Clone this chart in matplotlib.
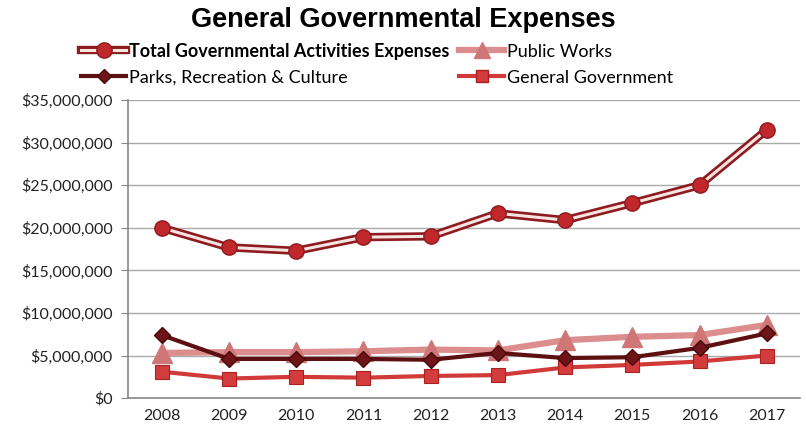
import matplotlib.pyplot as plt
from matplotlib.lines import Line2D
from matplotlib.legend_handler import HandlerTuple
from matplotlib.ticker import FuncFormatter

years = ['2008', '2009', '2010', '2011', '2012', '2013', '2014', '2015', '2016', '2017']
total = [20.0, 17.7, 17.3, 18.9, 19.0, 21.7, 20.9, 22.9, 25.0, 31.5]
public_works = [5.3, 5.4, 5.4, 5.5, 5.7, 5.6, 6.8, 7.2, 7.4, 8.6]
parks = [7.4, 4.6, 4.6, 4.6, 4.5, 5.3, 4.7, 4.8, 5.9, 7.6]
general_gov = [3.1, 2.3, 2.5, 2.4, 2.6, 2.7, 3.6, 3.9, 4.3, 5.0]

plt.rcParams['font.family'] = ['Lato', 'DejaVu Sans']

fig = plt.figure(figsize=(8.06, 4.37), dpi=100)
ax = fig.add_axes([0.159, 0.089, 0.834, 0.682])
x = list(range(len(years)))
M = 1e6

# total expenses: dark outline with pale core, sphere markers
ax.plot(x, [v * M for v in total], color='#8e1b1f', lw=6, zorder=3, solid_capstyle='round')
ax.plot(x, [v * M for v in total], color='#f6e4e0', lw=2.2, zorder=4)
ax.plot(x, [v * M for v in total], ls='none', marker='o', ms=11, mfc='#c0282c',
        mec='#8e1b1f', mew=1, zorder=5)

ax.plot(x, [v * M for v in public_works], color='#dc8d8d', lw=4.5, marker='^', ms=14,
        mfc='#cf7676', mec='#cf7676', zorder=3)
ax.plot(x, [v * M for v in general_gov], color='#d23a3a', lw=3, marker='s', ms=10,
        mfc='#d33c3c', mec='#a82222', mew=0.8, zorder=3)
ax.plot(x, [v * M for v in parks], color='#5e0f12', lw=3, marker='D', ms=8,
        mfc='#6e1518', mec='#4a0a0c', zorder=4)

ax.set_xlim(-0.5, len(years) - 0.5)
ax.set_ylim(0, 35e6)
ax.set_yticks([i * 5e6 for i in range(8)])
ax.yaxis.set_major_formatter(FuncFormatter(lambda v, p: '${:,.0f}'.format(v)))
ax.set_xticks(x)
ax.set_xticklabels(years)
ax.tick_params(axis='both', labelsize=11.5, colors='#222222')
ax.tick_params(axis='y', length=5, color='#888888', pad=6)
ax.tick_params(axis='x', length=0, pad=8)
ax.grid(axis='y', color='#aaaaaa', lw=1)
ax.set_axisbelow(True)
for side in ['top', 'right']:
    ax.spines[side].set_visible(False)
for side in ['left', 'bottom']:
    ax.spines[side].set_color('#888888')
    ax.spines[side].set_linewidth(1.2)

fig.text(0.5, 0.955, 'General Governmental Expenses', ha='center', va='center',
         fontsize=19.5, fontweight='bold', family=['Liberation Sans', 'DejaVu Sans'])

h_total = (Line2D([], [], color='#8e1b1f', lw=6),
           Line2D([], [], color='#f6e4e0', lw=2.2),
           Line2D([], [], ls='none', marker='o', ms=11, mfc='#c0282c', mec='#8e1b1f'))
h_pw = Line2D([], [], color='#dc8d8d', lw=4.5, marker='^', ms=12, mfc='#cf7676', mec='#cf7676')
h_parks = Line2D([], [], color='#5e0f12', lw=3, marker='D', ms=7, mfc='#6e1518', mec='#4a0a0c')
h_gg = Line2D([], [], color='#d23a3a', lw=3, marker='s', ms=9, mfc='#d33c3c', mec='#a82222')

leg = fig.legend([h_total, h_parks, h_pw, h_gg],
                 ['Total Governmental Activities Expenses', 'Parks, Recreation & Culture',
                  'Public Works', 'General Government'],
                 ncol=2, loc='center', bbox_to_anchor=(0.468, 0.853), frameon=False,
                 fontsize=13, handlelength=2.5, handletextpad=0.15, columnspacing=0.55,
                 labelspacing=0.55,
                 handler_map={tuple: HandlerTuple(ndivide=1, pad=0)})
leg.get_texts()[0].set_fontweight('bold')

plt.savefig('out.png', dpi=100)
